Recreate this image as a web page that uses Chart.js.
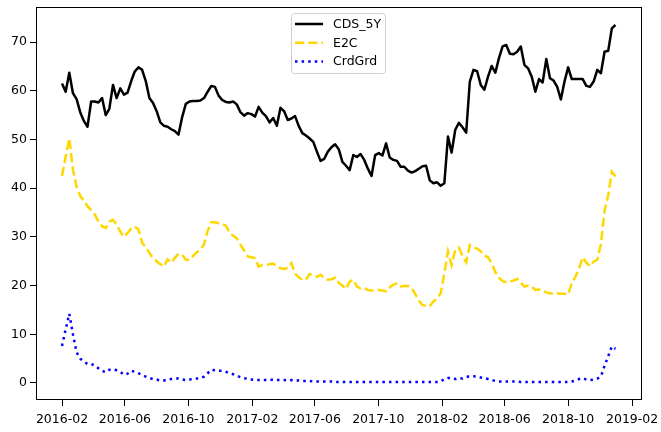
<!DOCTYPE html>
<html>
<head>
<meta charset="utf-8">
<script src="https://cdn.jsdelivr.net/npm/chart.js@4.4.0/dist/chart.umd.min.js"></script>
<style>
  html, body { margin: 0; padding: 0; background: #fff; }
  #wrap { width: 661px; height: 432px; }
</style>
</head>
<body>
<div id="wrap"><canvas id="grafico" width="661" height="432"></canvas></div>
<script>
// Series semanales (lunes), desde 2016-02-01
const fechaInicio = '2016-02-01';

const cds5y = [
  61.5, 59.8, 63.7, 59.5, 58.3, 55.6, 53.8, 52.6, 57.8, 57.8,
  57.6, 58.5, 55.0, 56.3, 61.2, 58.5, 60.5, 59.2, 59.6, 62.0,
  64.0, 64.8, 64.3, 62.0, 58.5, 57.5, 55.8, 53.5, 52.8, 52.6,
  52.1, 51.7, 51.0, 54.6, 57.3, 57.8, 57.9, 57.9, 58.0, 58.5,
  59.8, 61.0, 60.8, 59.0, 58.1, 57.7, 57.6, 57.8, 57.2, 55.6,
  54.9, 55.4, 55.2, 54.7, 56.7, 55.5, 54.8, 53.5, 54.4, 52.8,
  56.5, 55.8, 54.0, 54.3, 54.8, 52.8, 51.3, 50.8, 50.2, 49.5,
  47.5, 45.6, 46.0, 47.5, 48.4, 49.0, 48.0, 45.4, 44.6, 43.7,
  46.8, 46.4, 47.0, 45.8, 44.0, 42.5, 46.8, 47.2, 46.7, 49.2,
  46.3, 45.8, 45.6, 44.4, 44.4, 43.6, 43.2, 43.5, 44.0, 44.5,
  44.6, 41.6, 41.0, 41.2, 40.5, 41.0, 50.6, 47.3, 52.0, 53.4,
  52.5, 51.4, 61.9, 64.3, 64.0, 61.2, 60.2, 62.9, 65.1, 63.7,
  66.7, 69.1, 69.4, 67.6, 67.5, 68.0, 69.1, 65.3, 64.6, 62.9,
  59.8, 62.4, 61.7, 66.5, 62.6, 62.1, 60.8, 58.2, 61.9, 64.8,
  62.4, 62.4, 62.4, 62.4, 61.0, 60.8, 61.9, 64.3, 63.6, 68.0,
  68.2, 72.8, 73.5
];

const e2c = [
  42.5, 46.5, 50.2, 43.8, 40.3, 38.4, 37.5, 36.3, 35.5, 34.6,
  33.1, 32.2, 31.8, 33.1, 33.5, 32.5, 31.1, 30.0, 30.8, 31.7,
  32.1, 31.5, 28.8, 27.9, 26.7, 25.6, 25.0, 24.4, 23.9, 25.4,
  24.7, 25.7, 26.5, 26.3, 25.3, 25.3, 26.1, 26.8, 27.4, 28.5,
  31.2, 33.0, 33.0, 32.8, 32.6, 32.3, 30.9, 30.2, 29.7, 28.4,
  27.2, 26.0, 25.8, 25.6, 23.9, 24.2, 24.2, 24.4, 24.5, 23.9,
  23.6, 23.4, 23.6, 24.6, 22.5, 21.7, 21.2, 21.2, 22.4, 22.0,
  21.8, 22.2, 21.6, 21.2, 21.3, 21.6, 20.6, 20.0, 19.3, 20.8,
  21.2, 19.8, 19.4, 19.5, 19.1, 19.0, 19.0, 19.1, 19.0, 18.8,
  19.6, 20.2, 20.4, 19.8, 19.9, 19.9, 19.5, 18.3, 16.9, 16.0,
  15.8, 15.8, 16.7, 17.4, 18.4, 22.5, 27.0, 24.2, 27.3, 27.8,
  26.0, 24.8, 28.3, 27.8, 27.6, 27.0, 26.2, 25.8, 24.6, 22.8,
  21.6, 20.9, 20.7, 20.9, 21.0, 21.4, 20.6, 19.8, 20.0, 19.8,
  19.1, 19.2, 19.0, 18.6, 18.4, 18.3, 18.4, 18.3, 18.3, 18.2,
  20.5, 21.8, 23.5, 25.8, 24.7, 24.0, 24.9, 25.3, 28.5, 35.4,
  38.5, 43.4, 42.4
];

const crdGrd = [
  7.6, 11.0, 14.2, 10.0, 6.3, 5.0, 4.4, 3.9, 3.9, 3.6,
  3.0, 2.5, 2.2, 2.7, 2.8, 2.6, 2.3, 1.7, 1.9, 2.5,
  2.3, 2.0, 1.6, 1.3, 1.0, 0.8, 0.7, 0.5, 0.5, 0.7,
  0.8, 0.9, 0.9, 0.7, 0.6, 0.7, 0.8, 0.9, 1.0, 1.3,
  2.0, 2.7, 2.6, 2.5, 2.5, 2.3, 2.0, 1.8, 1.5, 1.2,
  1.0, 0.8, 0.7, 0.6, 0.6, 0.6, 0.6, 0.6, 0.7, 0.6,
  0.6, 0.6, 0.5, 0.6, 0.5, 0.5, 0.4, 0.4, 0.4, 0.3,
  0.3, 0.3, 0.3, 0.3, 0.3, 0.2, 0.2, 0.2, 0.2, 0.2,
  0.2, 0.2, 0.2, 0.2, 0.2, 0.2, 0.2, 0.2, 0.2, 0.2,
  0.2, 0.2, 0.2, 0.2, 0.2, 0.2, 0.2, 0.2, 0.2, 0.2,
  0.2, 0.2, 0.2, 0.2, 0.3, 0.8, 1.0, 1.0, 0.8, 1.0,
  0.9, 1.2, 1.4, 1.4, 1.3, 1.1, 1.0, 0.8, 0.6, 0.4,
  0.3, 0.3, 0.3, 0.3, 0.3, 0.3, 0.2, 0.2, 0.2, 0.2,
  0.2, 0.2, 0.2, 0.2, 0.2, 0.2, 0.2, 0.2, 0.2, 0.2,
  0.3, 0.5, 0.8, 1.0, 0.7, 0.6, 0.7, 0.9, 1.3, 3.5,
  5.5, 7.5, 7.0
];

const etiquetasX = ['2016-02', '2016-06', '2016-10', '2017-02', '2017-06',
                    '2017-10', '2018-02', '2018-06', '2018-10', '2019-02'];
const etiquetasY = [0, 10, 20, 30, 40, 50, 60, 70];

const DIA = 86400000;
const inicio = Date.parse(fechaInicio + 'T00:00:00Z');

// dias desde el inicio para cada punto semanal
const dias = cds5y.map((_, i) => i * 7);

// posicion de cada etiqueta del eje x (primer dia del mes)
const diasTicks = etiquetasX.map(s => (Date.parse(s + '-01T00:00:00Z') - inicio) / DIA);

const FUENTE = '"DejaVu Sans", sans-serif';

function puntos(serie) {
  return serie.map((v, i) => ({ x: dias[i], y: v }));
}

// Quitar el relleno automatico que Chart.js deja para las etiquetas
function sinRelleno(scale) {
  scale.paddingLeft = 0;
  scale.paddingRight = 0;
  scale.paddingTop = 0;
  scale.paddingBottom = 0;
}

// Marco del area de trazado (4 lados)
const marcoPlugin = {
  id: 'marco',
  afterDraw(chart) {
    const a = chart.chartArea;
    const ctx = chart.ctx;
    ctx.save();
    ctx.strokeStyle = '#000';
    ctx.lineWidth = 1;
    ctx.strokeRect(Math.round(a.left) + 0.5, Math.round(a.top) + 0.5,
                   Math.round(a.right - a.left) - 1, Math.round(a.bottom - a.top) - 1);
    ctx.restore();
  }
};

// Leyenda dentro del grafico, arriba al centro
const leyendaPlugin = {
  id: 'leyenda',
  afterDraw(chart) {
    const ctx = chart.ctx;
    const x = 291.5, y = 13.5, w = 94, h = 60, r = 3;
    ctx.save();
    ctx.beginPath();
    ctx.moveTo(x + r, y);
    ctx.arcTo(x + w, y, x + w, y + h, r);
    ctx.arcTo(x + w, y + h, x, y + h, r);
    ctx.arcTo(x, y + h, x, y, r);
    ctx.arcTo(x, y, x + w, y, r);
    ctx.closePath();
    ctx.fillStyle = 'rgba(255,255,255,0.8)';
    ctx.fill();
    ctx.strokeStyle = '#d0d0d0';
    ctx.lineWidth = 1;
    ctx.stroke();

    chart.data.datasets.forEach((ds, i) => {
      const yy = 24 + i * 18.8;
      ctx.beginPath();
      ctx.strokeStyle = ds.borderColor;
      ctx.lineWidth = ds.borderWidth;
      ctx.setLineDash(ds.borderDash || []);
      ctx.moveTo(295, yy);
      ctx.lineTo(323, yy);
      ctx.stroke();
      ctx.setLineDash([]);
      ctx.fillStyle = '#000';
      ctx.font = '12.5px ' + FUENTE;
      ctx.textBaseline = 'middle';
      ctx.textAlign = 'left';
      ctx.fillText(ds.label, 333, yy + 0.5);
    });
    ctx.restore();
  }
};

const fondoPlugin = {
  id: 'fondo',
  beforeDraw(chart) {
    const ctx = chart.ctx;
    ctx.save();
    ctx.fillStyle = '#fff';
    ctx.fillRect(0, 0, chart.width, chart.height);
    ctx.restore();
  }
};

new Chart(document.getElementById('grafico'), {
  type: 'line',
  data: {
    datasets: [
      {
        label: 'CDS_5Y',
        data: puntos(cds5y),
        borderColor: '#000000',
        borderWidth: 2.5,
        borderJoinStyle: 'round',
        pointRadius: 0,
        tension: 0,
        order: 3
      },
      {
        label: 'E2C',
        data: puntos(e2c),
        borderColor: '#FFD700',
        borderWidth: 2.5,
        borderDash: [9.25, 4],
        borderCapStyle: 'butt',
        pointRadius: 0,
        tension: 0,
        order: 2
      },
      {
        label: 'CrdGrd',
        data: puntos(crdGrd),
        borderColor: '#0000FF',
        borderWidth: 2.5,
        borderDash: [2.5, 4.1],
        borderCapStyle: 'butt',
        pointRadius: 0,
        tension: 0,
        order: 1
      }
    ]
  },
  options: {
    responsive: false,
    animation: false,
    layout: { padding: { top: 7, right: 19, left: 0, bottom: 0 } },
    plugins: {
      legend: { display: false },
      tooltip: { enabled: false }
    },
    scales: {
      x: {
        type: 'linear',
        min: -50,
        max: 1115,
        afterBuildTicks(scale) {
          scale.ticks = diasTicks.map(v => ({ value: v }));
        },
        afterFit(scale) {
          scale.height = 32;
          sinRelleno(scale);
        },
        ticks: {
          autoSkip: false,
          maxRotation: 0,
          padding: 6,
          color: '#000',
          font: { family: FUENTE, size: 12.5 },
          callback: (v, i) => etiquetasX[i]
        },
        grid: {
          drawOnChartArea: false,
          drawTicks: true,
          tickLength: 6,
          tickColor: '#000'
        },
        border: { display: false }
      },
      y: {
        min: -3.5,
        max: 77.2,
        afterBuildTicks(scale) {
          scale.ticks = etiquetasY.map(v => ({ value: v }));
        },
        afterFit(scale) {
          scale.width = 36;
          sinRelleno(scale);
        },
        ticks: {
          padding: 3,
          color: '#000',
          font: { family: FUENTE, size: 12.5 },
          callback: v => String(v)
        },
        grid: {
          drawOnChartArea: false,
          drawTicks: true,
          tickLength: 6,
          tickColor: '#000'
        },
        border: { display: false }
      }
    }
  },
  plugins: [fondoPlugin, marcoPlugin, leyendaPlugin]
});
</script>
</body>
</html>
